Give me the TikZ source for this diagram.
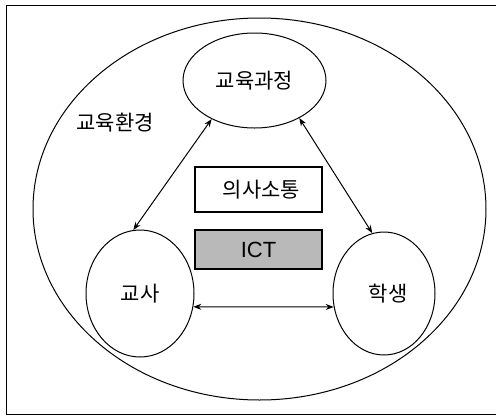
\documentclass[tikz,border=0pt]{standalone}
\usepackage{fontspec}
\setmainfont{Liberation Sans}
\newfontfamily\kr{Noto Sans CJK KR}
\usetikzlibrary{shapes.geometric,arrows.meta}
\begin{document}
\begin{tikzpicture}[x=1pt,y=-1pt,
  circ/.style={draw,ellipse,inner sep=0pt,line width=1pt},
  lbl/.style={font=\kr\fontsize{21}{24}\selectfont},
  boxst/.style={draw,rectangle,inner sep=0pt,line width=1.1pt,minimum width=127pt,minimum height=44pt},
  link/.style={{Stealth[length=8pt,width=6pt]}-{Stealth[length=8pt,width=6pt]},line width=1pt}]
\useasboundingbox (0,0) rectangle (496,416);
\draw[line width=1pt] (496,5) -- (6,5) -- (6,414) -- (496,414);
\node[circ,minimum width=453pt,minimum height=382pt] (env) at (259.5,209) {};
\node[circ,minimum width=143pt,minimum height=95pt,lbl] (cur) at (254.5,80.5) {교육과정};
\node[circ,minimum width=108pt,minimum height=127pt,lbl] (tea) at (140,293.5) {교사};
\node[circ,minimum width=102pt,minimum height=123pt,lbl] (stu) at (384,293.5) {\hspace{8pt}학생};
\node[lbl] (envlbl) at (115,123) {교육환경};
\node[boxst,minimum height=45pt,lbl] (comm) at (258.5,189.5) {\hspace{6pt}의사소통};
\node[boxst,minimum height=39pt,fill=gray!55,font=\fontsize{22}{24}\selectfont] (ict) at (258.5,249.5) {ICT};
\draw[link] (cur.222) -- (tea.96);
\draw[link] (cur.320) -- (stu.101);
\draw[link] (tea.346) -- (stu.195);
\end{tikzpicture}
\end{document}
